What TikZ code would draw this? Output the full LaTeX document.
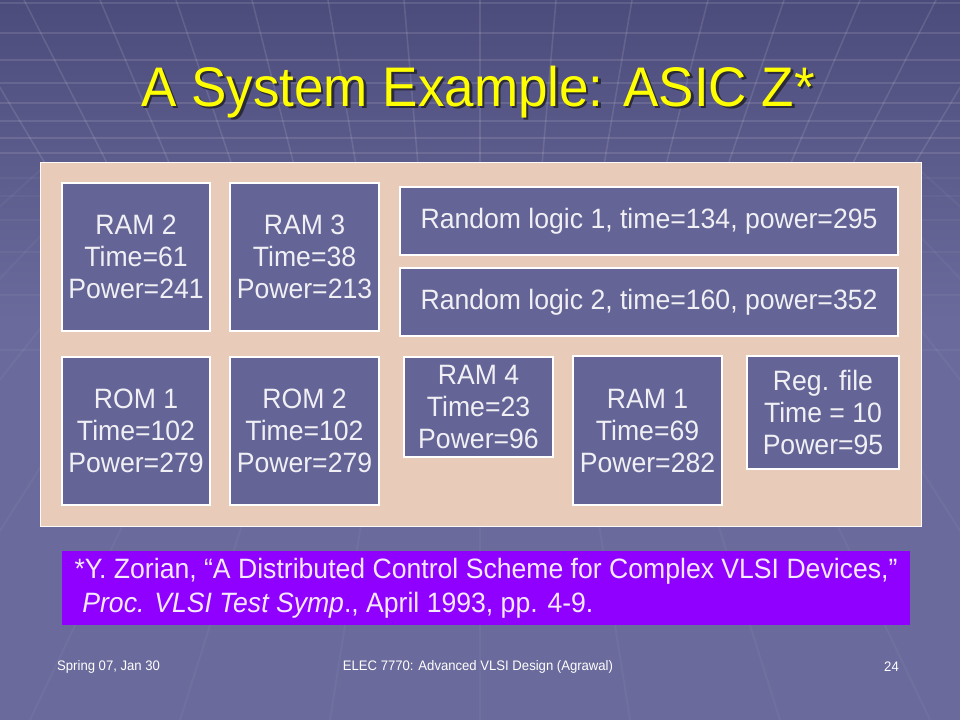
\documentclass[tikz,border=0pt]{standalone}
\usepackage{fontspec}
\setmainfont{Liberation Sans}[FakeStretch=0.95]
\definecolor{bgtop}{HTML}{4C4C7C}
\definecolor{bgmid}{HTML}{6A6A9C}
\definecolor{panelc}{HTML}{E8CBB8}
\definecolor{blkc}{HTML}{646497}
\definecolor{blktx}{HTML}{F0F0F4}
\definecolor{citebg}{HTML}{9000FF}
\definecolor{citetx}{HTML}{F6E8FF}
\definecolor{ttl}{HTML}{FFFF00}
\definecolor{ttlshadow}{HTML}{2A2A3A}
\begin{document}
\begin{tikzpicture}[x=1pt,y=-1pt,
  blkbox/.style={draw=white, line width=1.1pt, fill=blkc, text=blktx, inner sep=0pt,
    align=center, font=\fontsize{28}{32}\selectfont},
  gridln/.style={white, opacity=0.11, line width=1.6pt},
  floorln/.style={white, opacity=0.045, line width=2pt},
  foot/.style={text=white, font=\fontsize{13.8}{16}\selectfont, inner sep=0pt}]
\useasboundingbox (0,0) rectangle (960,720);
% background
\fill[bgmid] (0,0) rectangle (960,720);
\shade[top color=bgtop, bottom color=bgmid] (0,0) rectangle (960,320);
\begin{scope}
\clip (0,0) rectangle (960,720);
\foreach \yy in {3,33,60,83,103,121,138,153}
  \draw[gridln] (0,\yy) -- (960,\yy);
\foreach \k in {-9,...,9}
  \draw[gridln] ({480+\k*76},0) -- ({480+\k*62},165);
\foreach \yy in {178,196,220,252,295,350}
  \draw[floorln] (0,\yy) -- (960,\yy);
\foreach \k in {-9,...,9}
  \draw[floorln] ({480+\k*62},165) -- ({480+\k*150},720);
\end{scope}
% title
\node[text=ttlshadow, font=\fontsize{55.8}{60}\selectfont, inner sep=0pt] (titleshadow) at (480.5,94.5) {A System Example: ASIC Z*};
\node[text=ttl, font=\fontsize{55.8}{60}\selectfont, inner sep=0pt] (title) at (478,92) {A System Example: ASIC Z*};
% panel
\node[draw=white!90!panelc, line width=0.8pt, fill=panelc, inner sep=0pt,
  minimum width=881, minimum height=364] (panel) at (480.5,344) {};
% blocks
\node[blkbox, minimum width=148, minimum height=148] (ram2) at (136,257) {RAM 2\\Time=61\\Power=241};
\node[blkbox, minimum width=149, minimum height=148] (ram3) at (304.5,257) {RAM 3\\Time=38\\Power=213};
\node[blkbox, minimum width=148, minimum height=148] (rom1) at (136,431) {ROM 1\\Time=102\\Power=279};
\node[blkbox, minimum width=149, minimum height=148] (rom2) at (304.5,431) {ROM 2\\Time=102\\Power=279};
\node[blkbox, minimum width=498, minimum height=68] (rl1) at (649,221) {Random logic 1, time=134, power=295};
\node[blkbox, minimum width=498, minimum height=68] (rl2) at (649,302) {Random logic 2, time=160, power=352};
\node[blkbox, minimum width=149, minimum height=100] (ram4) at (478.5,407) {RAM 4\\Time=23\\Power=96};
\node[blkbox, minimum width=149, minimum height=149] (ram1) at (647.5,430.5) {RAM 1\\Time=69\\Power=282};
\node[blkbox, minimum width=152, minimum height=113] (regf) at (823,412.5) {Reg. file\\Time = 10\\Power=95};
% citation
\node[fill=citebg, text=citetx, inner sep=0pt, minimum width=848, minimum height=74,
  align=left, font=\fontsize{28}{34}\selectfont] (cite) at (486,588)
  {*Y. Zorian, “A Distributed Control Scheme for Complex VLSI Devices,”\\
   \hspace*{0.28em}\textit{Proc. VLSI Test Symp}., April 1993, pp. 4-9.};
% footer
\node[foot, anchor=west] (date) at (57,667) {Spring 07, Jan 30};
\node[foot] (course) at (478,667) {ELEC 7770: Advanced VLSI Design (Agrawal)};
\node[foot, anchor=east] (page) at (899,667) {24};
\end{tikzpicture}
\end{document}
